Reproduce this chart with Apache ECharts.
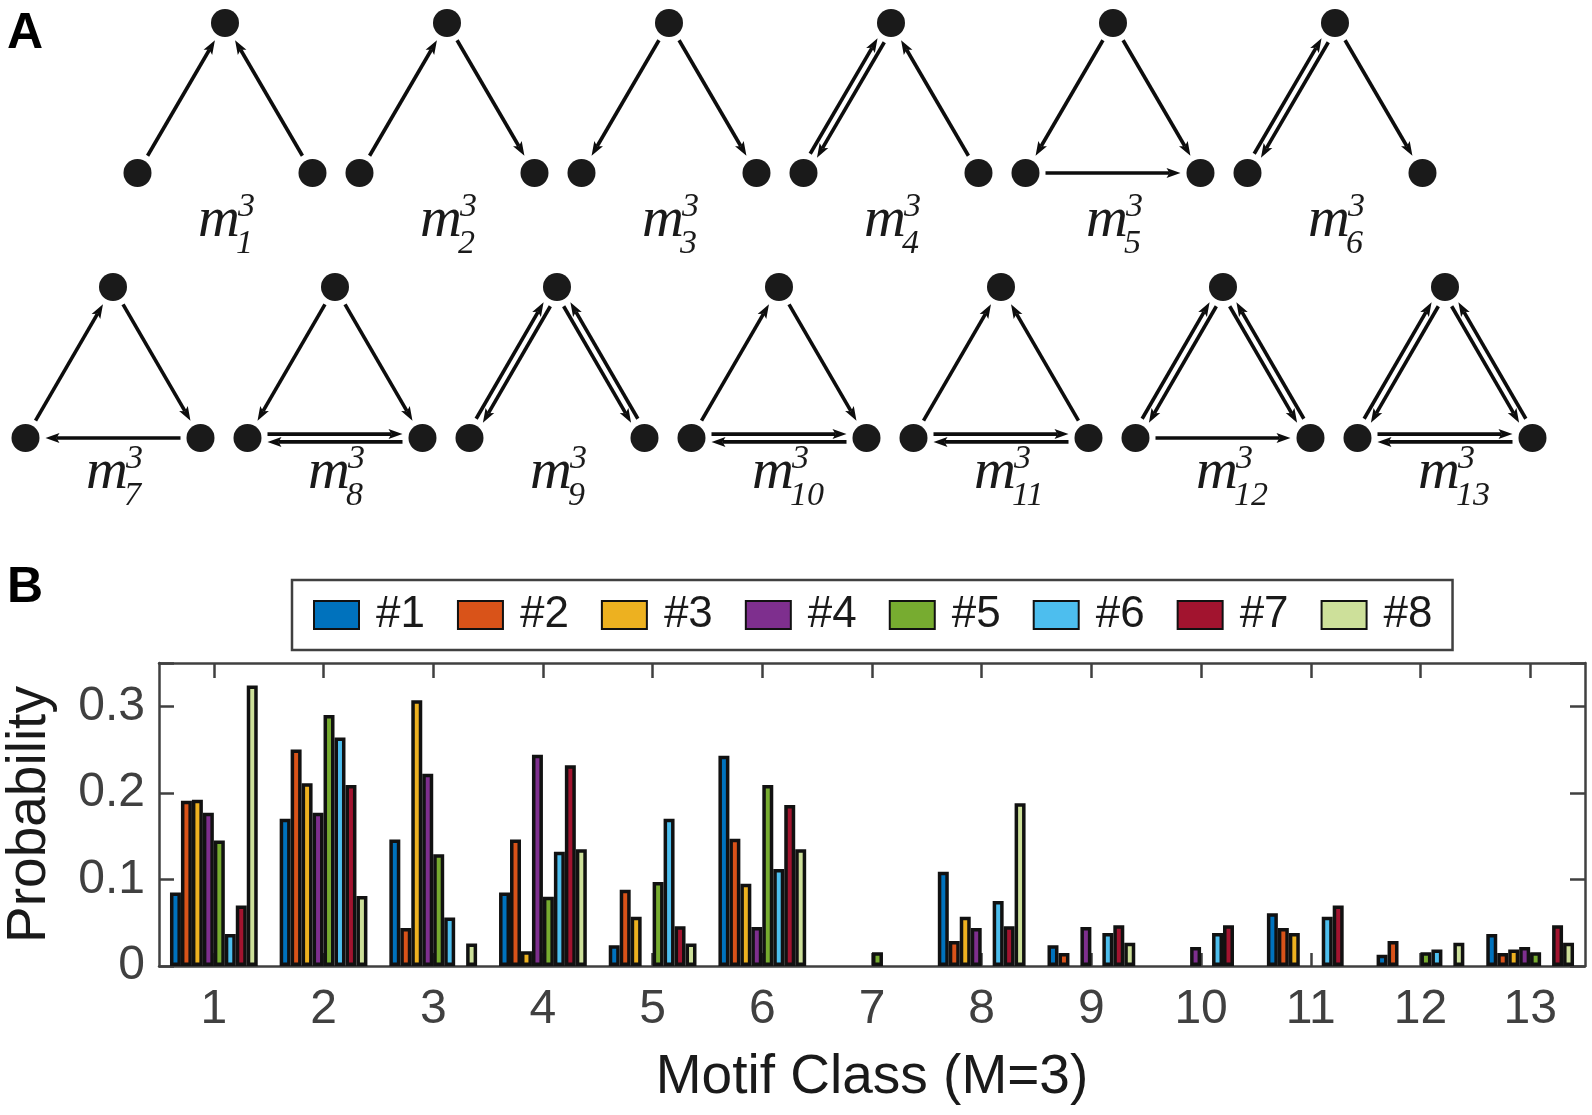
<!DOCTYPE html>
<html><head><meta charset="utf-8">
<script src="https://cdn.jsdelivr.net/npm/echarts@6/dist/echarts.min.js"></script>
<style>html,body{margin:0;padding:0;background:#fff}#c{width:1592px;height:1115px}</style>
</head><body><div id="c"></div>
<script>
// ---------- data ----------
const categories = ['1','2','3','4','5','6','7','8','9','10','11','12','13'];
const seriesNames = ['#1','#2','#3','#4','#5','#6','#7','#8'];
const s1 = [0.085, 0.170, 0.146, 0.085, 0.024, 0.243, 0, 0.109, 0.024, 0, 0.061, 0.013, 0.037];
const s2 = [0.191, 0.250, 0.044, 0.146, 0.088, 0.147, 0, 0.029, 0.015, 0, 0.044, 0.029, 0.015];
const s3 = [0.192, 0.211, 0.307, 0.017, 0.057, 0.095, 0, 0.057, 0, 0, 0.038, 0, 0.019];
const s4 = [0.177, 0.177, 0.222, 0.244, 0, 0.045, 0, 0.044, 0.045, 0.022, 0, 0, 0.022];
const s5 = [0.145, 0.290, 0.129, 0.080, 0.097, 0.209, 0.016, 0, 0, 0, 0, 0.016, 0.016];
const s6 = [0.037, 0.264, 0.056, 0.132, 0.170, 0.112, 0, 0.075, 0.038, 0.038, 0.057, 0.019, 0];
const s7 = [0.070, 0.209, 0, 0.232, 0.046, 0.186, 0, 0.046, 0.047, 0.047, 0.070, 0, 0.047];
const s8 = [0.324, 0.081, 0.026, 0.135, 0.026, 0.135, 0, 0.188, 0.027, 0, 0, 0.027, 0.027];
const yTickLabels = ['0', '0.1', '0.2', '0.3'];
const colors = ['#0072BD','#D95319','#EDB120','#7E2F8E','#77AC30','#4DBEEE','#A2142F','#CDE09A'];

// motif edge lists (T = top, L = bottom-left, R = bottom-right)
const motifEdges = [
  [['L','T'],['R','T']],
  [['L','T'],['T','R']],
  [['T','L'],['T','R']],
  [['L','T'],['T','L'],['R','T']],
  [['T','L'],['T','R'],['L','R']],
  [['L','T'],['T','L'],['T','R']],
  [['L','T'],['T','R'],['R','L']],
  [['T','L'],['T','R'],['L','R'],['R','L']],
  [['L','T'],['T','L'],['R','T'],['T','R']],
  [['L','T'],['T','R'],['L','R'],['R','L']],
  [['L','T'],['R','T'],['L','R'],['R','L']],
  [['L','T'],['T','L'],['R','T'],['T','R'],['L','R']],
  [['L','T'],['T','L'],['R','T'],['T','R'],['L','R'],['R','L']]
];
const motifIndex = ['1','2','3','4','5','6','7','8','9','10','11','12','13'];

// ---------- panel A drawing ----------
const INK = '#0d0d0d';
const rows = [
  {x0: 225, dx: 222, top: 23, bot: 173, base: 240},
  {x0: 113, dx: 222, top: 287, bot: 438, base: 492}
];
const HALF = 87.5, NODE_R = 14, GAP0 = 20, GAP1 = 20, HEAD_L = 14, HEAD_W = 5, PAR = 3.9;
const outerSign = {'L>T': 1, 'R>T': 1, 'R>L': 1, 'T>L': -1, 'T>R': -1, 'L>R': -1};
const graphics = [];
const serif = '"Liberation Serif", "Times New Roman", serif';

motifEdges.forEach((edges, i) => {
  const row = i < 6 ? rows[0] : rows[1];
  const k = i < 6 ? i : i - 6;
  const cx = row.x0 + row.dx * k;
  const P = {T: [cx, row.top], L: [cx - HALF, row.bot], R: [cx + HALF, row.bot]};
  const C = [cx, (row.top + 2 * row.bot) / 3];
  const keys = edges.map(e => e[0] + '>' + e[1]);
  edges.forEach(e => {
    const a = P[e[0]], b = P[e[1]];
    const dx = b[0] - a[0], dy = b[1] - a[1], len = Math.hypot(dx, dy);
    const ux = dx / len, uy = dy / len;
    let nx = -uy, ny = ux;
    const mx = (a[0] + b[0]) / 2 - C[0], my = (a[1] + b[1]) / 2 - C[1];
    if (nx * mx + ny * my < 0) { nx = -nx; ny = -ny; }
    const mutual = keys.indexOf(e[1] + '>' + e[0]) >= 0;
    const off = mutual ? outerSign[e[0] + '>' + e[1]] * PAR : 0;
    const ox = nx * off, oy = ny * off;
    const sx = a[0] + ux * GAP0 + ox, sy = a[1] + uy * GAP0 + oy;
    const tx = b[0] - ux * GAP1 + ox, ty = b[1] - uy * GAP1 + oy;
    const bx = tx - ux * HEAD_L, by = ty - uy * HEAD_L;
    const qx = tx - ux * (HEAD_L - 3), qy = ty - uy * (HEAD_L - 3);
    graphics.push({type: 'line', silent: true,
      shape: {x1: sx, y1: sy, x2: qx, y2: qy},
      style: {stroke: INK, lineWidth: 3.6}});
    graphics.push({type: 'polygon', silent: true,
      shape: {points: [[tx, ty], [bx + nx * HEAD_W, by + ny * HEAD_W], [qx, qy], [bx - nx * HEAD_W, by - ny * HEAD_W]]},
      style: {fill: INK}});
  });
  ['T', 'L', 'R'].forEach(n => graphics.push({type: 'circle', silent: true,
    shape: {cx: P[n][0], cy: P[n][1], r: NODE_R}, style: {fill: '#1a1a1a'}}));
  // label m^3_i
  graphics.push({type: 'text', silent: true, style: {text: 'm', x: cx - 6, y: row.base - 19,
    fontSize: 58, fontStyle: 'italic', fontFamily: serif, fill: '#1a1a1a', align: 'center', verticalAlign: 'middle'}});
  graphics.push({type: 'text', silent: true, style: {text: '3', x: cx + 13, y: row.base - 33,
    fontSize: 34, fontStyle: 'italic', fontFamily: serif, fill: '#1a1a1a', align: 'left', verticalAlign: 'middle'}});
  graphics.push({type: 'text', silent: true, style: {text: motifIndex[i], x: cx + 11, y: row.base + 4,
    fontSize: 34, fontStyle: 'italic', fontFamily: serif, fill: '#1a1a1a', align: 'left', verticalAlign: 'middle'}});
});

const sans = '"Liberation Sans", Arial, Helvetica, sans-serif';
graphics.push({type: 'text', silent: true, style: {text: 'A', x: 7, y: 9, fontSize: 50, fontWeight: 'bold',
  fontFamily: sans, fill: '#000', align: 'left', verticalAlign: 'top'}});
graphics.push({type: 'text', silent: true, style: {text: 'B', x: 7, y: 563, fontSize: 50, fontWeight: 'bold',
  fontFamily: sans, fill: '#000', align: 'left', verticalAlign: 'top'}});

// ---------- panel B ----------
const AX = '#404040';
const allSeries = [s1, s2, s3, s4, s5, s6, s7, s8];
const chart = echarts.init(document.getElementById('c'), null, {renderer: 'canvas'});
const axisLine = {show: true, onZero: false, lineStyle: {color: AX, width: 2.5}};
const option = {
  animation: false,
  backgroundColor: '#fff',
  textStyle: {fontFamily: sans},
  graphic: graphics,
  legend: {
    left: 292, top: 580, data: seriesNames, icon: 'rect',
    itemWidth: 45, itemHeight: 28, itemGap: 32,
    padding: [13, 20, 13, 21],
    borderColor: AX, borderWidth: 2.5,
    textStyle: {fontSize: 44, color: '#1a1a1a', fontFamily: sans, padding: [0, 0, 0, 12]}
  },
  grid: {left: 159, right: 7, top: 663, bottom: 149, containLabel: false, outerBoundsMode: 'none'},
  xAxis: [
    {type: 'category', data: categories, position: 'bottom', boundaryGap: true,
      axisLine: axisLine,
      axisTick: {show: true, inside: true, alignWithLabel: true, length: 13, lineStyle: {color: AX, width: 2.5}},
      axisLabel: {interval: 0, fontSize: 48, color: AX, margin: 20, fontFamily: sans},
      splitLine: {show: false},
      name: 'Motif Class (M=3)', nameLocation: 'middle', nameGap: 84,
      nameTextStyle: {fontSize: 55, color: '#1a1a1a', fontFamily: sans}},
    {type: 'category', data: categories, position: 'top', boundaryGap: true,
      axisLine: axisLine,
      axisTick: {show: true, inside: true, alignWithLabel: true, length: 15, lineStyle: {color: AX, width: 2.5}},
      axisLabel: {show: false}, splitLine: {show: false}}
  ],
  yAxis: [
    {type: 'value', min: 0, max: 0.35, interval: 0.1, position: 'left',
      axisLine: axisLine,
      axisTick: {show: true, inside: true, length: 15, lineStyle: {color: AX, width: 2.5}},
      axisLabel: {fontSize: 48, color: AX, margin: 14, fontFamily: sans,
        formatter: v => { const idx = Math.round(v * 10); return (Math.abs(v * 10 - idx) < 1e-6 && idx < yTickLabels.length) ? yTickLabels[idx] : ''; }},
      splitLine: {show: false},
      name: 'Probability', nameLocation: 'middle', nameGap: 102,
      nameTextStyle: {fontSize: 55, color: '#1a1a1a', fontFamily: sans}},
    {type: 'value', min: 0, max: 0.35, interval: 0.1, position: 'right',
      axisLine: axisLine,
      axisTick: {show: true, inside: true, length: 15, lineStyle: {color: AX, width: 2.5}},
      axisLabel: {show: false}, splitLine: {show: false}}
  ],
  series: allSeries.map((d, i) => ({
    type: 'bar', name: seriesNames[i], data: d.map(v => v === 0 ? '-' : v), xAxisIndex: 0, yAxisIndex: 0,
    barGap: '0%', barCategoryGap: '20%',
    itemStyle: {color: colors[i], borderColor: '#111', borderWidth: 3.5},
    emphasis: {disabled: true}
  }))
};
chart.setOption(option);
</script>
</body></html>
